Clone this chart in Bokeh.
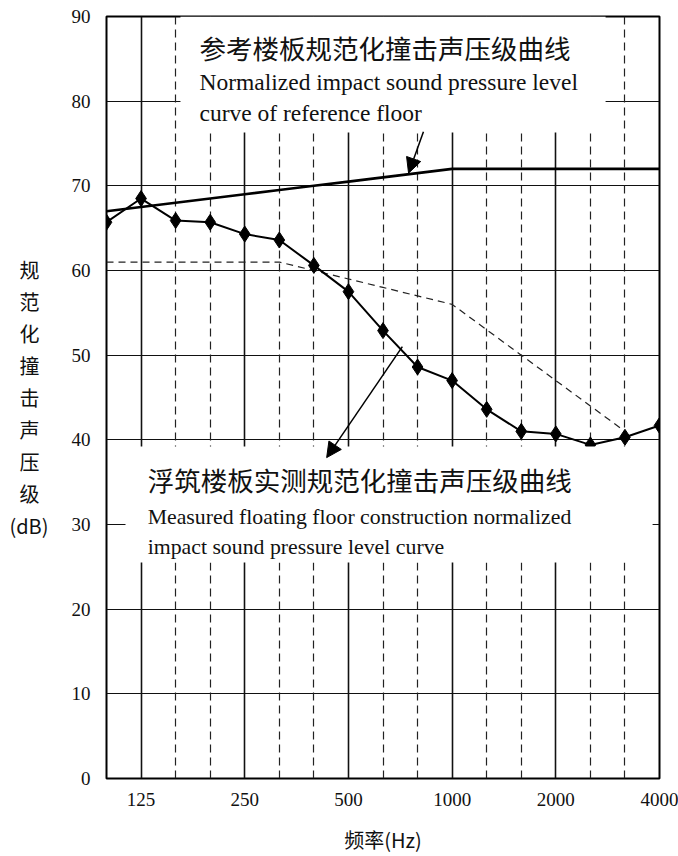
from bokeh.plotting import figure
from bokeh.models import Range1d, FixedTicker, Grid, Label, Arrow, NormalHead
from bokeh.embed import file_html
from bokeh.resources import INLINE

# ---- data ----
bands = ["100", "125", "160", "200", "250", "315", "400", "500", "630",
         "800", "1000", "1250", "1600", "2000", "2500", "3150", "4000"]
measured = [65.7, 68.5, 65.9, 65.7, 64.3, 63.6, 60.6, 57.5, 52.9,
            48.6, 47.0, 43.6, 41.0, 40.7, 39.4, 40.3, 41.7]
reference_floor = [67.0, 67.5, 68.0, 68.5, 69.0, 69.5, 70.0, 70.5, 71.0,
                   71.5, 72.0, 72.0, 72.0, 72.0, 72.0, 72.0, 72.0]
shifted_iso_ref = [61, 61, 61, 61, 61, 61, 60, 59, 58,
                   57, 56, 53, 50, 47, 44, 41]
tick_labels = ["125", "250", "500", "1000", "2000", "4000"]
y_ticks = [0, 10, 20, 30, 40, 50, 60, 70, 80, 90]
y_label_chars = ["规", "范", "化", "撞", "击", "声", "压", "级", "(dB)"]

idx = list(range(len(bands)))
tick_pos = [bands.index(t) for t in tick_labels]
solid_v = [i for i in tick_pos if i != len(bands) - 1]
dashed_v = [i for i in idx if i not in tick_pos and i != 0]

SERIF = "Liberation Serif"
CJK = "Noto Sans CJK SC"

p = figure(width=678, height=856, x_range=Range1d(0, 16), y_range=Range1d(0, 90),
           output_backend="svg", toolbar_location=None,
           min_border_left=106, min_border_right=19, min_border_top=16, min_border_bottom=78)
p.background_fill_color = "white"
p.border_fill_color = "white"
p.outline_line_color = "black"
p.outline_line_width = 2

# axes
p.xaxis.ticker = FixedTicker(ticks=tick_pos)
p.xaxis.major_label_overrides = {i: t for i, t in zip(tick_pos, tick_labels)}
p.yaxis.ticker = FixedTicker(ticks=y_ticks)
for ax in (p.xaxis, p.yaxis):
    ax.axis_line_color = None
    ax.major_tick_line_color = None
    ax.minor_tick_line_color = None
    ax.major_tick_out = 0
    ax.major_tick_in = 0
    ax.major_label_text_font = SERIF
    ax.major_label_text_font_size = "19px"
    ax.major_label_text_color = "#111111"
p.yaxis.major_label_standoff = 16
p.xaxis.major_label_standoff = 14
p.xaxis.axis_label = "频率(Hz)"
p.xaxis.axis_label_text_font = CJK
p.xaxis.axis_label_text_font_size = "20px"
p.xaxis.axis_label_text_font_style = "normal"
p.xaxis.axis_label_text_color = "#111111"
p.xaxis.axis_label_standoff = 16

# stacked vertical title; non-breaking padding centres the single characters over "(dB)"
pad = "\u00a0\u00a0"
p.yaxis.axis_label = "\n".join([c + pad if len(c) == 1 else c for c in y_label_chars])
p.yaxis.axis_label_orientation = "horizontal"
p.yaxis.axis_label_text_font = CJK
p.yaxis.axis_label_text_font_size = "20px"
p.yaxis.axis_label_text_font_style = "normal"
p.yaxis.axis_label_text_color = "#111111"
p.yaxis.axis_label_text_align = "center"
p.yaxis.axis_label_text_line_height = 1.1
p.yaxis.axis_label_standoff = 20

# grids
p.ygrid.ticker = FixedTicker(ticks=y_ticks[1:-1])
p.ygrid.grid_line_color = "#111111"
p.ygrid.grid_line_width = 1.2
p.xgrid.ticker = FixedTicker(ticks=solid_v)
p.xgrid.grid_line_color = "#111111"
p.xgrid.grid_line_width = 1.6
p.add_layout(Grid(dimension=0, ticker=FixedTicker(ticks=dashed_v),
                  grid_line_color="#222222", grid_line_width=1.2, grid_line_dash="8 5"))

# curves
p.line(idx, reference_floor, line_color="black", line_width=2.6)
p.line(idx[:len(shifted_iso_ref)], shifted_iso_ref, line_color="#222222",
       line_width=1.2, line_dash="7 5")
p.line(idx, measured, line_color="black", line_width=2)
p.scatter(idx, measured, marker="diamond", size=16, fill_color="black", line_color="black")

# white text boxes over the grid
p.quad(left=[2.14, 0.55], right=[14.44, 15.8], bottom=[76.3, 25.5], top=[90, 39.2],
       fill_color="white", line_color=None)

# arrows
p.add_layout(Arrow(end=NormalHead(size=15, fill_color="black", line_color="black"),
                   x_start=9.17, y_start=76.4, x_end=8.74, y_end=71.5,
                   line_width=1.5, line_color="black"))
p.add_layout(Arrow(end=NormalHead(size=15, fill_color="black", line_color="black"),
                   x_start=8.56, y_start=51.0, x_end=6.37, y_end=37.9,
                   line_width=1.5, line_color="black"))

# annotation texts
def lab(x, y, text, font, size):
    p.add_layout(Label(x=x, y=y, text=text, text_font=font, text_font_size=size,
                       text_baseline="middle", text_align="left", text_color="#111111"))

lab(2.69, 86.3, "参考楼板规范化撞击声压级曲线", CJK, "26.5px")
lab(2.69, 82.3, "Normalized impact sound pressure level", SERIF, "23.5px")
lab(2.69, 78.6, "curve of reference floor", SERIF, "23.5px")
lab(1.19, 35.3, "浮筑楼板实测规范化撞击声压级曲线", CJK, "26.5px")
lab(1.19, 30.9, "Measured  floating floor construction  normalized", SERIF, "21.8px")
lab(1.19, 27.4, "impact sound pressure level curve", SERIF, "21.8px")

open("out.html", "w").write(file_html(p, INLINE))
